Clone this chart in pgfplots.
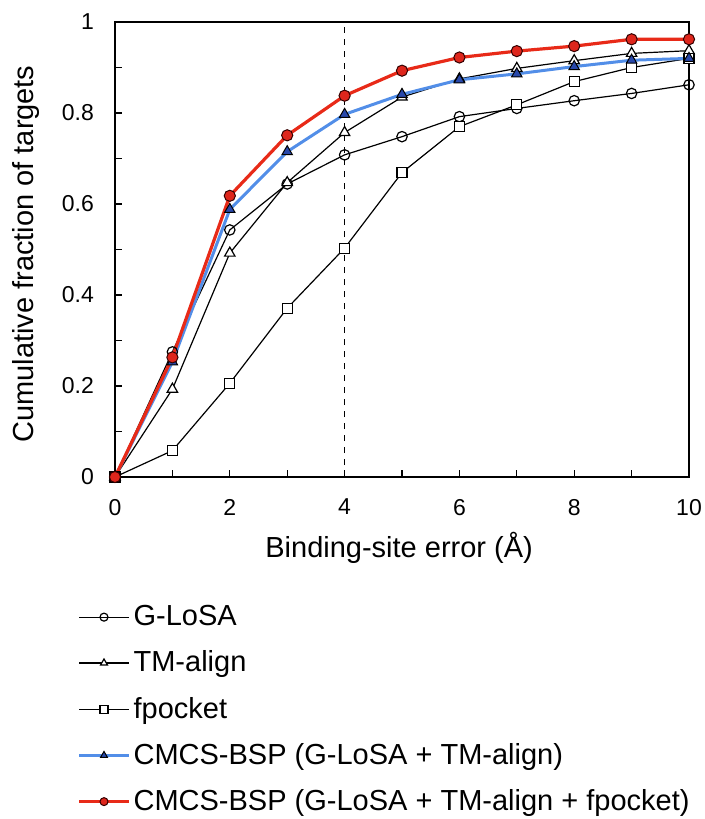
\documentclass[border=0pt]{standalone}
\usepackage{pgfplots}
\pgfplotsset{compat=1.18}
\usepackage{fontspec}
\setmainfont{Liberation Sans}
\definecolor{redline}{RGB}{232,42,24}
\definecolor{redfill}{RGB}{222,38,28}
\definecolor{blueline}{RGB}{82,142,232}
\definecolor{bluefill}{RGB}{40,72,170}
\begin{document}
\begin{tikzpicture}
\useasboundingbox (-57.5pt,-171pt) rectangle (295pt,238.5pt);
\begin{axis}[
  at={(0,0)}, anchor=south west,
  scale only axis, width=287pt, height=227.5pt,
  xmin=0, xmax=10, ymin=0, ymax=1,
  xtick={0,2,4,6,8,10}, minor x tick num=1,
  ytick={0,0.2,0.4,0.6,0.8,1}, minor y tick num=1,
  tick align=inside, xtick pos=bottom, ytick pos=left,
  major tick length=3.5pt, minor tick length=3.5pt,
  every tick/.style={black, line width=0.6pt},
  axis line style={line width=1pt},
  /pgf/number format/assume math mode=true,
  ticklabel style={font=\fontsize{11.5}{13}\selectfont},
  yticklabel style={xshift=-7pt},
  xticklabel style={yshift=-7.5pt},
  xlabel={Binding-site error (Å)},
  ylabel={Cumulative fraction of targets},
  label style={font=\fontsize{14.5}{17}\selectfont},
  xlabel style={at={(axis description cs:0.495,-0.156)}, anchor=center},
  ylabel style={at={(axis description cs:-0.155,0.49)}, anchor=center},
  legend style={draw=none, fill=none, at={(axis description cs:-0.0662,-0.275)}, anchor=north west,
    font=\fontsize{14.5}{17}\selectfont, row sep=8.1pt, inner sep=0pt, column sep=0pt,
    nodes={inner sep=1.5pt}},
  legend cell align=left,
  legend image code/.code={\draw[#1] (0pt,0pt) -- (25pt,0pt); \draw[#1,mark size=2pt] plot coordinates {(12.5pt,0pt)};},
]
\addplot[black, dashed, line width=0.5pt, forget plot] coordinates {(4,0)(4,1)};
\addplot[black, line width=0.6pt, mark=o, mark size=2.6pt, mark options={fill=white, solid}] coordinates {
(0,0)(1,0.275)(2,0.543)(3,0.644)(4,0.708)(5,0.748)(6,0.792)(7,0.810)(8,0.827)(9,0.843)(10,0.862)};
\addlegendentry{G-LoSA}
\addplot[black, line width=0.6pt, mark=triangle*, mark size=3pt, mark options={fill=white, solid}] coordinates {
(0,0)(1,0.193)(2,0.492)(3,0.647)(4,0.757)(5,0.835)(6,0.875)(7,0.898)(8,0.915)(9,0.931)(10,0.937)};
\addlegendentry{TM-align}
\addplot[black, line width=0.6pt, mark=square*, mark size=2.5pt, mark options={fill=white, solid}] coordinates {
(0,0)(1,0.058)(2,0.206)(3,0.371)(4,0.503)(5,0.669)(6,0.770)(7,0.818)(8,0.869)(9,0.900)(10,0.920)};
\addlegendentry{fpocket}
\addplot[blueline, line width=1.5pt, mark=triangle*, mark size=3pt, mark options={fill=bluefill, draw=black, line width=0.5pt, solid}] coordinates {
(0,0)(1,0.253)(2,0.588)(3,0.715)(4,0.797)(5,0.841)(6,0.873)(7,0.886)(8,0.902)(9,0.916)(10,0.920)};
\addlegendentry{CMCS-BSP (G-LoSA + TM-align)}
\addplot[redline, line width=1.6pt, mark=*, mark size=2.8pt, mark options={fill=redfill, draw=black!80!red, line width=0.5pt, solid}] coordinates {
(0,0)(1,0.263)(2,0.618)(3,0.751)(4,0.838)(5,0.893)(6,0.922)(7,0.936)(8,0.947)(9,0.962)(10,0.962)};
\addlegendentry{CMCS-BSP (G-LoSA + TM-align + fpocket)}
\end{axis}
\end{tikzpicture}
\end{document}
